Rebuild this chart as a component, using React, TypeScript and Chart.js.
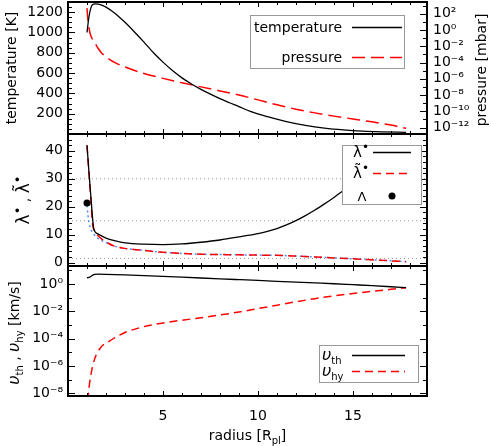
import React, { useEffect, useRef } from 'react';
import { Chart, registerables } from 'chart.js';

Chart.register(...registerables);

const FONT = "'DejaVu Sans', sans-serif";
const WIDTH = 491;
const HEIGHT = 446;

// ---------------- data ----------------
// Top panel: temperature [K] and pressure [mbar] (pressure given as log10 exponent)
const radiusT = [1.0, 1.1, 1.2, 1.3, 1.45, 1.7, 2.0, 2.5, 3.0, 3.5, 4.0, 4.5, 5.0, 5.5, 6.0, 6.5, 7.0, 7.5, 8.0, 8.5, 9.0, 9.6, 10.5, 11.5, 12.5, 13.5, 14.5, 15.5, 16.5, 17.8];
const temperatureK = [1000, 1150, 1240, 1275, 1282, 1275, 1250, 1185, 1100, 1005, 905, 800, 708, 625, 553, 493, 440, 393, 348, 308, 270, 222, 170, 122, 85, 58, 40, 28, 21, 16];

const radiusP = [1.0, 1.03, 1.07, 1.16, 1.3, 1.43, 1.6, 1.78, 2.0, 2.5, 3.0, 4.0, 5.0, 6.0, 7.0, 8.0, 9.0, 10.0, 11.0, 12.0, 13.0, 14.0, 15.0, 16.0, 17.0, 17.8];
const pressureExp = [2.7, 1.7, 0.85, -0.4, -1.2, -1.65, -2.3, -2.85, -3.3, -4.05, -4.55, -5.35, -5.95, -6.5, -7.0, -7.5, -8.0, -8.6, -9.2, -9.75, -10.2, -10.6, -10.95, -11.3, -11.7, -12.1];

// Middle panel: lambda*, lambda-tilde*, Lambda
const radiusLam = [1.0, 1.1, 1.2, 1.3, 1.36, 1.6, 2.0, 2.5, 3.0, 4.0, 5.0, 6.0, 7.0, 8.0, 9.0, 10.0, 10.5, 11.0, 11.5, 12.0, 12.5, 13.0, 13.5, 14.0, 14.5, 15.0, 15.5, 16.0, 16.5, 17.0, 17.5, 17.8];
const lambdaStar = [42, 32.6, 24, 15.4, 12.0, 10.2, 8.8, 7.8, 7.1, 6.6, 6.45, 6.7, 7.3, 8.1, 9.2, 10.4, 11.2, 12.2, 13.5, 15.0, 16.8, 18.8, 21.0, 23.3, 25.8, 28.3, 30.8, 33.2, 35.5, 37.7, 39.8, 41.0];

const radiusLamT = [1.0, 1.1, 1.2, 1.29, 1.39, 1.6, 1.78, 2.0, 2.4, 3.0, 3.8, 5.0, 6.0, 7.0, 8.0, 9.0, 10.0, 11.0, 12.0, 13.0, 14.0, 15.0, 16.0, 17.0, 17.8];
const lambdaTilde = [42, 32.5, 23, 13.9, 11.4, 9.5, 8.4, 7.4, 6.0, 5.1, 4.5, 3.7, 3.3, 3.0, 2.9, 2.8, 2.7, 2.6, 2.35, 2.05, 1.7, 1.35, 1.0, 0.65, 0.35];

const radiusLamB = [1.0, 1.05, 1.1, 1.2, 1.3, 1.5, 1.8, 2.0, 2.4, 3.0, 3.8, 5.0, 6.0, 7.0, 8.0, 9.0, 10.0, 11.0, 12.0, 13.0, 14.0, 15.0, 16.0, 17.0, 17.8];
const lambdaTildeDotted = [20.5, 17, 14.5, 12.0, 10.7, 9.1, 7.8, 7.2, 6.0, 5.1, 4.5, 3.7, 3.3, 3.0, 2.9, 2.8, 2.7, 2.6, 2.35, 2.05, 1.7, 1.35, 1.0, 0.65, 0.35];

const radiusCapLambda = [1.0];
const capLambda = [21.3];

const refLevels = [30, 15, 1.5];

// Bottom panel: velocities [km/s] (log10 exponents)
const radiusVth = [1.0, 1.15, 1.3, 1.4, 1.6, 2.0, 3.0, 4.0, 5.0, 6.0, 7.0, 8.0, 9.0, 10.0, 11.0, 12.0, 13.0, 14.0, 15.0, 16.0, 17.0, 17.8];
const vthExp = [0.46, 0.5, 0.65, 0.71, 0.72, 0.71, 0.67, 0.62, 0.56, 0.5, 0.44, 0.38, 0.32, 0.26, 0.2, 0.14, 0.08, 0.02, -0.05, -0.12, -0.2, -0.27];

const radiusVhy = [1.0, 1.07, 1.2, 1.4, 1.75, 2.05, 2.5, 3.0, 4.0, 5.0, 6.0, 7.0, 8.0, 9.0, 10.0, 11.0, 12.0, 13.0, 14.0, 15.0, 16.0, 17.0, 17.8];
const vhyExp = [-9.5, -8.1, -6.7, -5.5, -4.6, -4.3, -3.9, -3.55, -3.12, -2.85, -2.65, -2.47, -2.27, -2.05, -1.8, -1.55, -1.3, -1.07, -0.87, -0.7, -0.53, -0.39, -0.27];

// Tick labels
const xTickLabels = [5, 10, 15];
const tempTickLabels = [200, 400, 600, 800, 1000, 1200];
const pressureTickExp = [2, 0, -2, -4, -6, -8, -10, -12];
const lambdaTickLabels = [0, 10, 20, 30, 40];
const velocityTickExp = [0, -2, -4, -6, -8];

// ---------------- helpers ----------------
const pow10 = (e: number) => Math.pow(10, e);
const SUP: Record<string, string> = { '-': '\u207B', '0': '\u2070', '1': '\u00B9', '2': '\u00B2', '3': '\u00B3', '4': '\u2074', '5': '\u2075', '6': '\u2076', '7': '\u2077', '8': '\u2078', '9': '\u2079' };
const powLabel = (v: number) => '10' + String(Math.round(Math.log10(v))).split('').map((c) => SUP[c] || c).join('');
const pts = (xs: number[], ys: number[], f?: (v: number) => number) => xs.map((x, i) => ({ x, y: f ? f(ys[i]) : ys[i] }));
const range = (a: number, b: number, s: number) => { const r: number[] = []; for (let v = a; v <= b + 1e-9; v += s) r.push(+v.toFixed(6)); return r; };

const xMinor = range(1, 18, 1).filter((v) => v % 5 !== 0);
const tempMinor = range(50, 1300, 50).filter((v) => v % 200 !== 0);
const lambdaMinor = range(0, 46, 2).filter((v) => v % 10 !== 0);
const pressureMinorExp = [3, 1, -1, -3, -5, -7, -9, -11];
const velocityMinorExp = [1, -1, -3, -5, -7];

type Seg = { t: string; size: number; dy?: number; italic?: boolean };
const segFont = (s: Seg) => `${s.italic ? 'italic ' : ''}${s.size}px ${FONT}`;

function drawRich(ctx: CanvasRenderingContext2D, segs: Seg[], x: number, y: number, align: 'left' | 'center' | 'right', rotate = false) {
  ctx.save();
  ctx.translate(x, y);
  if (rotate) ctx.rotate(-Math.PI / 2);
  ctx.textBaseline = 'alphabetic';
  ctx.textAlign = 'left';
  ctx.fillStyle = '#000';
  let total = 0;
  const widths = segs.map((s) => { ctx.font = segFont(s); const w = ctx.measureText(s.t).width; total += w; return w; });
  let cx = align === 'left' ? 0 : align === 'center' ? -total / 2 : -total;
  const base = 5;
  segs.forEach((s, i) => { ctx.font = segFont(s); ctx.fillText(s.t, cx, base + (s.dy || 0)); cx += widths[i]; });
  ctx.restore();
}

type AxisTicks = { id: string; major: number[]; minor: number[]; left: boolean; right: boolean };
type LegendItem = { segs: Seg[]; tx: number; align: 'left' | 'center' | 'right'; y: number; line?: { x0: number; x1: number; color: string; width: number; dash: number[] }; dot?: { x: number; r: number } };
type Decor = { axes: AxisTicks[]; legend?: { box: number[]; items: LegendItem[] }; titles: { segs: Seg[]; x: number; y: number; align: 'left' | 'center' | 'right'; rotate?: boolean }[] };

function makeDecor(d: Decor) {
  return {
    id: 'decor',
    afterDatasetsDraw(chart: any) {
      const { ctx, chartArea: a } = chart;
      const xs = chart.scales.x;
      ctx.save();
      ctx.strokeStyle = '#000';
      ctx.lineWidth = 1;
      ctx.setLineDash([]);
      ctx.beginPath();
      const xTick = (v: number, len: number) => {
        const px = Math.round(xs.getPixelForValue(v)) + 0.5;
        ctx.moveTo(px, a.bottom); ctx.lineTo(px, a.bottom - len);
        ctx.moveTo(px, a.top); ctx.lineTo(px, a.top + len);
      };
      xTickLabels.forEach((v) => xTick(v, 5));
      xMinor.forEach((v) => xTick(v, 3));
      d.axes.forEach((ax) => {
        const s = chart.scales[ax.id];
        const yTick = (v: number, len: number) => {
          const py = Math.round(s.getPixelForValue(v)) + 0.5;
          if (py <= a.top + 1 || py >= a.bottom - 1) return;
          if (ax.left) { ctx.moveTo(a.left, py); ctx.lineTo(a.left + len, py); }
          if (ax.right) { ctx.moveTo(a.right, py); ctx.lineTo(a.right - len, py); }
        };
        ax.major.forEach((v) => yTick(v, 7));
        ax.minor.forEach((v) => yTick(v, 4));
      });
      ctx.stroke();
      ctx.lineWidth = 2;
      ctx.strokeRect(a.left, a.top, a.right - a.left, a.bottom - a.top);
      ctx.restore();
    },
    afterDraw(chart: any) {
      const ctx: CanvasRenderingContext2D = chart.ctx;
      if (d.legend) {
        const [x0, y0, x1, y1] = d.legend.box;
        ctx.save();
        ctx.fillStyle = '#fff';
        ctx.fillRect(x0, y0, x1 - x0, y1 - y0);
        ctx.strokeStyle = '#999';
        ctx.lineWidth = 1;
        ctx.strokeRect(x0 + 0.5, y0 + 0.5, x1 - x0, y1 - y0);
        d.legend.items.forEach((it) => {
          drawRich(ctx, it.segs, it.tx, it.y, it.align);
          if (it.line) {
            ctx.save();
            ctx.strokeStyle = it.line.color;
            ctx.lineWidth = it.line.width;
            ctx.setLineDash(it.line.dash);
            ctx.beginPath();
            ctx.moveTo(it.line.x0, it.y + 0.5);
            ctx.lineTo(it.line.x1, it.y + 0.5);
            ctx.stroke();
            ctx.restore();
          }
          if (it.dot) {
            ctx.fillStyle = '#000';
            ctx.beginPath();
            ctx.arc(it.dot.x, it.y, it.dot.r, 0, Math.PI * 2);
            ctx.fill();
          }
        });
        ctx.restore();
      }
      d.titles.forEach((t) => drawRich(ctx, t.segs, t.x, t.y, t.align, t.rotate));
    },
  };
}

const tickFont = { family: FONT, size: 14 };
const hiddenGrid = { display: false, drawTicks: false };
const plainLabel = (v: any) => String(v);

function baseOptions(padding: any, scales: any) {
  return {
    animation: false as const,
    responsive: false,
    devicePixelRatio: 1,
    events: [] as any[],
    layout: { padding, autoPadding: false },
    plugins: { legend: { display: false }, tooltip: { enabled: false } },
    scales,
  };
}

const hiddenX = { type: 'linear', min: 0, max: 18.9, display: false };

const lineDs = (data: any[], color: string, width: number, dash: number[], yAxisID = 'y') => ({
  data, yAxisID, borderColor: color, borderWidth: width, borderDash: dash, pointRadius: 0, fill: false,
  cubicInterpolationMode: 'monotone', borderCapStyle: 'butt',
});

// ---------------- panel configs ----------------
const topConfig = () => ({
  type: 'line',
  data: {
    datasets: [
      lineDs(pts(radiusT, temperatureK), '#000', 1.3, []),
      lineDs(pts(radiusP, pressureExp, pow10), '#ff0000', 1.5, [13, 6], 'yP'),
    ],
  },
  options: baseOptions({ top: 2, bottom: HEIGHT - 134, left: 0, right: 0 }, {
    x: hiddenX,
    y: {
      type: 'linear', position: 'left', min: 0, max: 1300,
      grid: hiddenGrid, border: { display: false },
      ticks: { color: '#000', font: tickFont, padding: 5, autoSkip: false, callback: plainLabel },
      afterBuildTicks: (s: any) => { s.ticks = tempTickLabels.map((value) => ({ value })); },
      afterFit: (s: any) => { s.width = 68; s.paddingTop = 0; s.paddingBottom = 0; },
    },
    yP: {
      type: 'logarithmic', position: 'right', min: pow10(-12.8), max: pow10(3.45),
      grid: hiddenGrid, border: { display: false },
      ticks: { color: '#000', font: tickFont, padding: 6, autoSkip: false, callback: (v: any) => powLabel(Number(v)) },
      afterBuildTicks: (s: any) => { s.ticks = pressureTickExp.map((e) => ({ value: pow10(e) })); },
      afterFit: (s: any) => { s.width = WIDTH - 427; s.paddingTop = 0; s.paddingBottom = 0; },
    },
  }),
  plugins: [makeDecor({
    axes: [
      { id: 'y', major: tempTickLabels, minor: tempMinor, left: true, right: false },
      { id: 'yP', major: pressureTickExp.map(pow10), minor: pressureMinorExp.map(pow10), left: false, right: true },
    ],
    legend: {
      box: [250, 15, 404, 68],
      items: [
        { segs: [{ t: 'temperature', size: 14 }], tx: 342, align: 'right', y: 27, line: { x0: 352, x1: 402, color: '#000', width: 1.3, dash: [] } },
        { segs: [{ t: 'pressure', size: 14 }], tx: 342, align: 'right', y: 57, line: { x0: 352, x1: 402, color: '#ff0000', width: 1.5, dash: [13, 6] } },
      ],
    },
    titles: [
      { segs: [{ t: 'temperature [K]', size: 14 }], x: 11, y: 68, align: 'center', rotate: true },
      { segs: [{ t: 'pressure [mbar]', size: 14 }], x: 481, y: 70, align: 'center', rotate: true },
    ],
  })],
});

const midConfig = () => ({
  type: 'line',
  data: {
    datasets: [
      { data: pts(radiusCapLambda, capLambda), showLine: false, pointRadius: 3.5, pointBackgroundColor: '#000', pointBorderWidth: 0, yAxisID: 'y' },
      lineDs(pts(radiusLam, lambdaStar), '#000', 1.3, []),
      lineDs(pts(radiusLamT, lambdaTilde), '#ff0000', 1.5, [8, 5]),
      lineDs(pts(radiusLamB, lambdaTildeDotted), '#4a8cff', 1.5, [2, 3]),
      ...refLevels.map((lv) => ({ data: [{ x: 0, y: lv }, { x: 18.9, y: lv }], yAxisID: 'y', borderColor: '#999', borderWidth: 1, borderDash: [1, 3], pointRadius: 0, fill: false })),
    ],
  },
  options: baseOptions({ top: 134, bottom: HEIGHT - 266, left: 0, right: WIDTH - 427 }, {
    x: hiddenX,
    y: {
      type: 'linear', position: 'left', min: -1.2, max: 46,
      grid: hiddenGrid, border: { display: false },
      ticks: { color: '#000', font: tickFont, padding: 5, autoSkip: false, callback: plainLabel },
      afterBuildTicks: (s: any) => { s.ticks = lambdaTickLabels.map((value) => ({ value })); },
      afterFit: (s: any) => { s.width = 68; s.paddingTop = 0; s.paddingBottom = 0; },
    },
  }),
  plugins: [makeDecor({
    axes: [{ id: 'y', major: lambdaTickLabels, minor: lambdaMinor, left: true, right: true }],
    legend: {
      box: [342, 145, 421, 204],
      items: [
        { segs: [{ t: '\u03BB', size: 15 }, { t: '\u2022', size: 12, dy: -6 }], tx: 361, align: 'center', y: 152, line: { x0: 373, x1: 411, color: '#000', width: 1.3, dash: [] } },
        { segs: [{ t: '\u03BB\u0303', size: 15 }, { t: '\u2022', size: 12, dy: -6 }], tx: 361, align: 'center', y: 173, line: { x0: 373, x1: 411, color: '#ff0000', width: 1.5, dash: [8, 5] } },
        { segs: [{ t: '\u039B', size: 13 }], tx: 362, align: 'center', y: 196, dot: { x: 392, r: 3.5 } },
      ],
    },
    titles: [
      { segs: [{ t: '\u03BB', size: 17 }, { t: '\u2022', size: 13, dy: -7 }, { t: ' , ', size: 14 }, { t: '\u03BB\u0303', size: 17 }, { t: '\u2022', size: 13, dy: -7 }], x: 24, y: 200, align: 'center', rotate: true },
    ],
  })],
});

const botConfig = () => ({
  type: 'line',
  data: {
    datasets: [
      lineDs(pts(radiusVth, vthExp, pow10), '#000', 1.3, []),
      lineDs(pts(radiusVhy, vhyExp, pow10), '#ff0000', 1.5, [8, 5]),
    ],
  },
  options: baseOptions({ top: 266, bottom: 0, left: 0, right: WIDTH - 427 }, {
    x: {
      type: 'linear', position: 'bottom', min: 0, max: 18.9,
      grid: hiddenGrid, border: { display: false },
      ticks: { color: '#000', font: tickFont, padding: 12, autoSkip: false, maxRotation: 0, callback: plainLabel },
      afterBuildTicks: (s: any) => { s.ticks = xTickLabels.map((value) => ({ value })); },
      afterFit: (s: any) => { s.height = HEIGHT - 396; s.paddingLeft = 0; s.paddingRight = 0; },
    },
    y: {
      type: 'logarithmic', position: 'left', min: pow10(-8.2), max: pow10(1.32),
      grid: hiddenGrid, border: { display: false },
      ticks: { color: '#000', font: tickFont, padding: 5, autoSkip: false, callback: (v: any) => powLabel(Number(v)) },
      afterBuildTicks: (s: any) => { s.ticks = velocityTickExp.map((e) => ({ value: pow10(e) })); },
      afterFit: (s: any) => { s.width = 68; s.paddingTop = 0; s.paddingBottom = 0; },
    },
  }),
  plugins: [makeDecor({
    axes: [{ id: 'y', major: velocityTickExp.map(pow10), minor: velocityMinorExp.map(pow10), left: true, right: true }],
    legend: {
      box: [319, 345, 418, 382],
      items: [
        { segs: [{ t: '\u03C5', size: 16, italic: true }, { t: 'th', size: 10, dy: 4 }], tx: 322, align: 'left', y: 355, line: { x0: 352, x1: 405, color: '#000', width: 1.3, dash: [] } },
        { segs: [{ t: '\u03C5', size: 16, italic: true }, { t: 'hy', size: 10, dy: 4 }], tx: 322, align: 'left', y: 371, line: { x0: 352, x1: 405, color: '#ff0000', width: 1.5, dash: [8, 5] } },
      ],
    },
    titles: [
      { segs: [{ t: '\u03C5', size: 16, italic: true }, { t: 'th', size: 10, dy: 4 }, { t: ' , ', size: 14 }, { t: '\u03C5', size: 16, italic: true }, { t: 'hy', size: 10, dy: 4 }, { t: ' [km/s]', size: 14 }], x: 14, y: 333, align: 'center', rotate: true },
      { segs: [{ t: 'radius [R', size: 14 }, { t: 'pl', size: 10, dy: 4 }, { t: ']', size: 14 }], x: 247.5, y: 435, align: 'center' },
    ],
  })],
});

function Panel({ make }: { make: () => any }) {
  const ref = useRef<HTMLCanvasElement>(null);
  useEffect(() => {
    const chart = new Chart(ref.current as HTMLCanvasElement, make());
    return () => chart.destroy();
  }, [make]);
  return (
    <canvas
      ref={ref}
      width={WIDTH}
      height={HEIGHT}
      style={{ position: 'absolute', left: 0, top: 0, width: WIDTH, height: HEIGHT }}
    />
  );
}

export default function App() {
  return (
    <div style={{ position: 'absolute', left: 0, top: 0, width: WIDTH, height: HEIGHT, background: '#fff' }}>
      <Panel make={topConfig} />
      <Panel make={midConfig} />
      <Panel make={botConfig} />
    </div>
  );
}
